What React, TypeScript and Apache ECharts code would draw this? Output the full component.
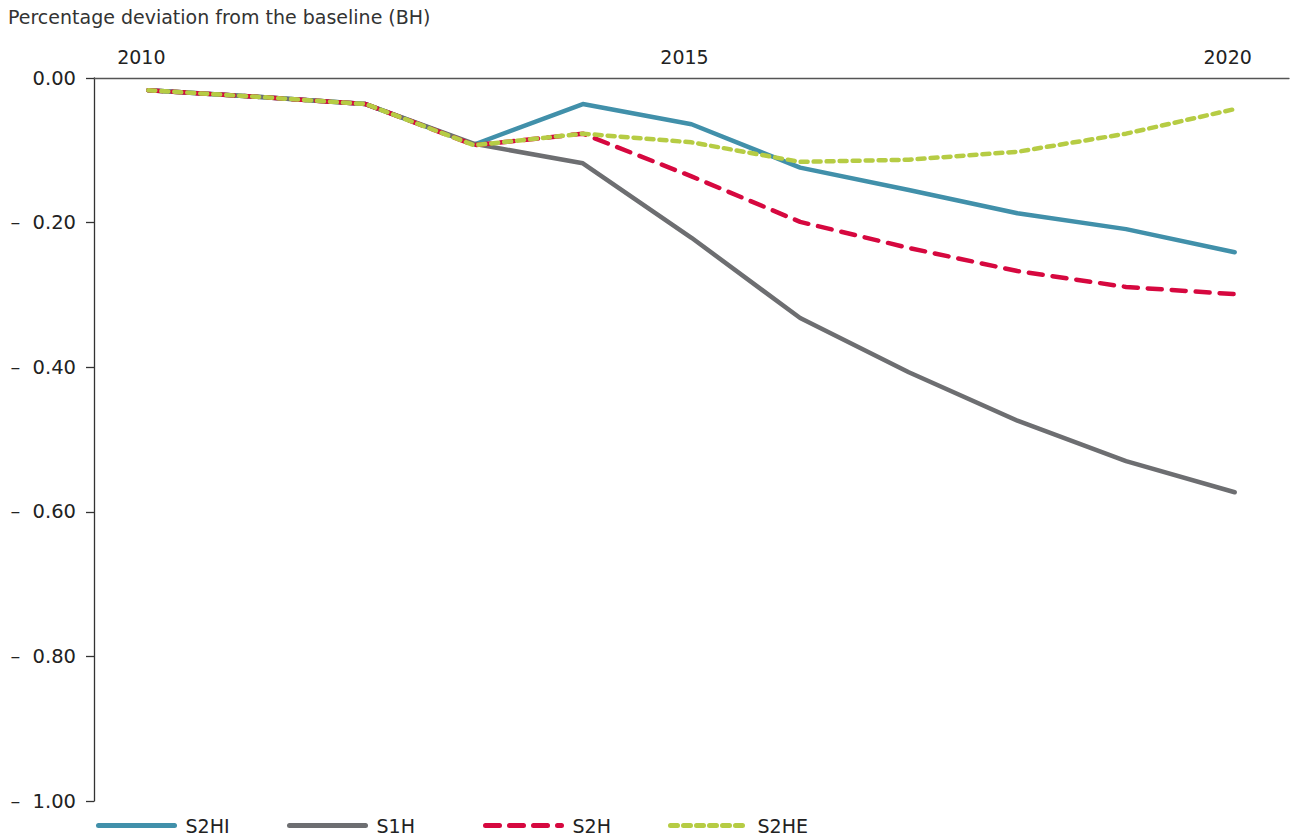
import React, { useEffect, useRef } from "react";
import * as echarts from "echarts";

const years = ["2010", "2011", "2012", "2013", "2014", "2015", "2016", "2017", "2018", "2019", "2020"];
const s2hi = [-0.017, -0.026, -0.036, -0.092, -0.036, -0.064, -0.124, -0.155, -0.187, -0.209, -0.241];
const s1h = [-0.017, -0.026, -0.036, -0.091, -0.118, -0.221, -0.332, -0.407, -0.474, -0.530, -0.573];
const s2h = [-0.017, -0.026, -0.036, -0.093, -0.077, -0.136, -0.199, -0.235, -0.267, -0.289, -0.299];
const s2he = [-0.017, -0.026, -0.036, -0.093, -0.077, -0.089, -0.116, -0.113, -0.102, -0.077, -0.043];
const yTicks = [0, -0.2, -0.4, -0.6, -0.8, -1.0];

const FONT = "DejaVu Sans, Verdana, sans-serif";

export default function App() {
  const ref = useRef<HTMLDivElement>(null);
  useEffect(() => {
    if (!ref.current) return;
    const chart = echarts.init(ref.current, undefined, { renderer: "svg" });
    const mk = (name: string, data: number[], color: string, type: any) => ({
      name,
      type: "line",
      data,
      symbol: "none",
      lineStyle: { color, width: 4.5, type, cap: "round", join: "round" },
      itemStyle: { color },
    });
    const legendBase = (name: string, left: number) => ({
      data: [name],
      left,
      top: 816,
      padding: 0,
      itemWidth: 76,
      itemHeight: 14,
      itemStyle: { opacity: 0 },
      lineStyle: { width: 5 },
      textStyle: { fontFamily: FONT, fontSize: 19, lineHeight: 18, color: "#222", padding: [0, 0, 0, 6] },
      itemGap: 0,
    });
    chart.setOption({
      animation: false,
      backgroundColor: "#fff",
      graphic: [
        {
          type: "text",
          left: 8,
          top: 7,
          style: { text: "Percentage deviation from the baseline (BH)", font: `19px ${FONT}`, fill: "#333" },
        },
      ],
      legend: [
        legendBase("S2HI", 96),
        legendBase("S1H", 287),
        legendBase("S2H", 483),
        legendBase("S2HE", 668),
      ],
      grid: { left: 94, right: 1, top: 78, bottom: 37, containLabel: false },
      xAxis: {
        type: "category",
        position: "top",
        data: years,
        boundaryGap: true,
        axisLine: { lineStyle: { color: "#555", width: 1.3 } },
        axisTick: { inside: true, length: 7, lineStyle: { color: "#555", width: 1.3 } },
        axisLabel: {
          interval: 4,
          margin: 12,
          fontFamily: FONT,
          fontSize: 19,
          color: "#222",
          padding: [0, 14, 0, 0],
        },
        splitLine: { show: false },
      },
      yAxis: {
        type: "value",
        min: -1,
        max: 0,
        interval: 0.2,
        axisLine: { show: true, lineStyle: { color: "#333", width: 1.3 } },
        axisTick: { show: true, length: 8, lineStyle: { color: "#333", width: 1.3 } },
        splitLine: { show: false },
        axisLabel: {
          margin: 18,
          fontFamily: FONT,
          fontSize: 19.5,
          color: "#222",
          formatter: (v: number) => {
            const t = yTicks.find((x) => Math.abs(x - v) < 1e-6);
            const val = t === undefined ? v : t;
            return Math.abs(val) < 1e-9 ? "0.00" : "\u2013\u00a0\u00a0" + Math.abs(val).toFixed(2);
          },
        },
      },
      series: [
        mk("S2HI", s2hi, "#4190aa", "solid"),
        mk("S1H", s1h, "#6d6e71", "solid"),
        mk("S2H", s2h, "#d6083f", [14, 10]),
        mk("S2HE", s2he, "#b6cc44", [7, 6]),
      ],
    });
    return () => chart.dispose();
  }, []);
  return <div ref={ref} style={{ width: 1290, height: 838, position: "absolute", left: 0, top: 0 }} />;
}
